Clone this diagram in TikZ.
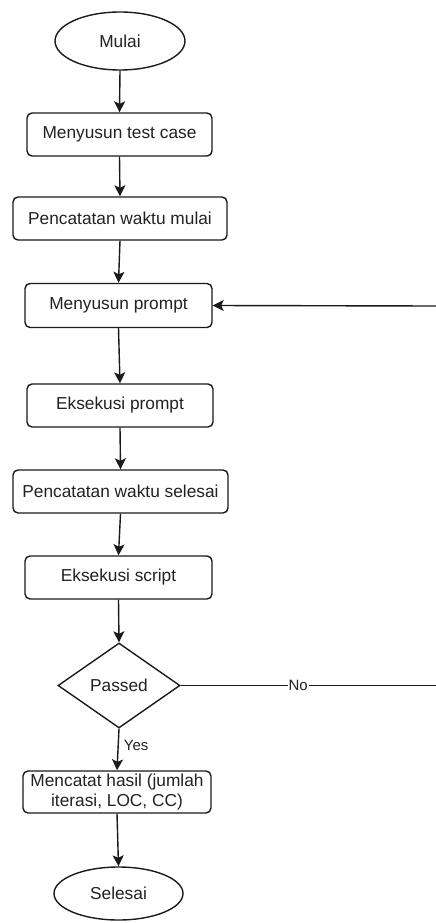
\documentclass[tikz,border=0pt]{standalone}
\usepackage{fontspec}
\setmainfont{Liberation Sans}
\usetikzlibrary{shapes.geometric,arrows.meta}
\definecolor{lc}{HTML}{1A1A1A}
\definecolor{tc}{HTML}{222222}
\begin{document}
\begin{tikzpicture}[x=1pt,y=-1pt,
  box/.style={draw=lc, line width=1.4pt, rounded corners=5pt, fill=white, inner sep=2pt,
    font=\fontsize{17.3}{20}\selectfont, text=tc, align=center, minimum height=43pt},
  term/.style={draw=lc, ellipse, line width=1.4pt, fill=white, inner sep=0pt,
    font=\fontsize{17.3}{20}\selectfont, text=tc},
  decide/.style={draw=lc, diamond, line width=1.4pt, fill=white, inner sep=0pt,
    font=\fontsize{17.3}{20}\selectfont, text=tc},
  conn/.style={draw=lc, line width=1.4pt, -{Stealth[length=11pt,width=11pt,inset=2.5pt]}},
  plain/.style={draw=lc, line width=1.4pt},
  lbl/.style={font=\fontsize{15}{17}\selectfont, text=tc, inner sep=1pt}
]
\useasboundingbox (0,0) rectangle (436,923);

\node[term, minimum width=130pt, minimum height=58pt] (mulai) at (120,41) {Mulai};
\node[box, minimum width=185pt] (test) at (119.5,134.5) {Menyusun test case};
\node[box, minimum width=214pt] (wmulai) at (120,218.5) {Pencatatan waktu mulai};
\node[box, minimum width=187pt, minimum height=44pt] (prompt) at (118.5,305.5) {Menyusun prompt};
\node[box, minimum width=186pt] (eksp) at (120,405.5) {Eksekusi prompt};
\node[box, minimum width=215pt] (wsel) at (120.5,491.5) {Pencatatan waktu selesai};
\node[box, minimum width=187pt] (eksc) at (118.5,577.5) {Eksekusi script};
\node[decide, minimum width=122pt, minimum height=85pt] (passed) at (119,685.5) {Passed};
\node[box, minimum width=188pt, minimum height=42pt, inner sep=0pt] (hasil) at (117,792) {Mencatat hasil (jumlah\\iterasi, LOC, CC)};
\node[term, minimum width=129pt, minimum height=53pt] (selesai) at (118.5,893.5) {Selesai};

\coordinate (noend) at (436,685.5);
\coordinate (backin) at (436,306);

\draw[conn] (mulai.south) -- (test.north);
\draw[conn] (test.south) -- (wmulai.north);
\draw[conn] (wmulai.south) -- (prompt.north);
\draw[conn] (prompt.south) -- (eksp.north);
\draw[conn] (eksp.south) -- (wsel.north);
\draw[conn] (wsel.south) -- (eksc.north);
\draw[conn] (eksc.south) -- (passed.north);
\draw[conn] (passed.south) -- node[lbl, anchor=west, pos=0.4, xshift=4pt] (yes) {Yes} (hasil.north);
\draw[conn] (hasil.south) -- (selesai.north);
\draw[plain] (passed.east) -- node[lbl, fill=white, pos=0.46] (no) {No} (noend);
\draw[conn] (backin) -- (prompt.east);
\end{tikzpicture}
\end{document}
